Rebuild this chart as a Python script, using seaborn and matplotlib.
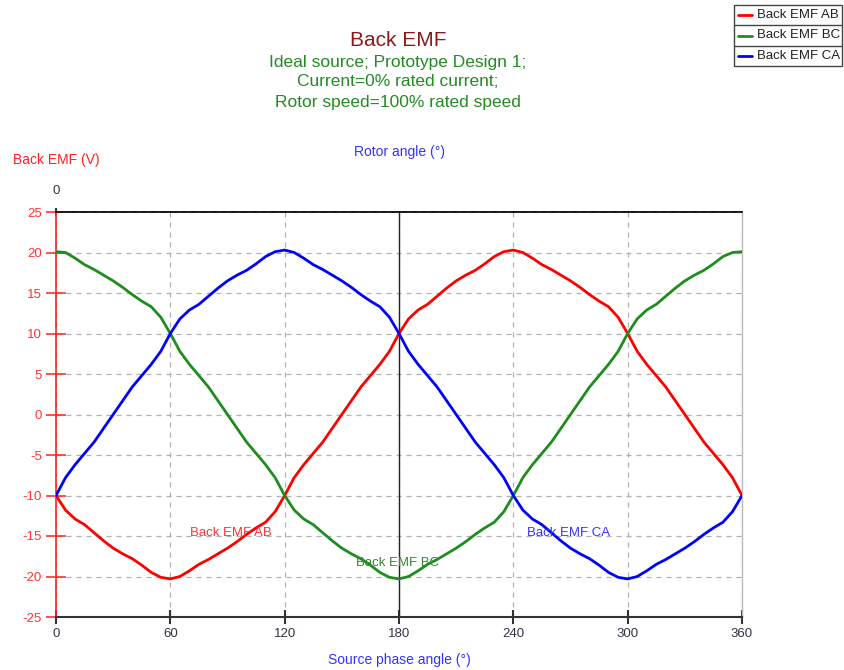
import matplotlib
matplotlib.use('Agg')
import matplotlib.pyplot as plt
import seaborn as sns
import pandas as pd
from matplotlib.lines import Line2D
from matplotlib.patches import Rectangle

# ---------------- data ----------------
angles = list(range(0, 361, 5))  # source phase angle (deg)

emf_ab = [-10.0, -11.8, -12.9, -13.6, -14.6, -15.6, -16.5, -17.2, -17.8, -18.6, -19.5, -20.1, -20.3,
          -20.0, -19.3, -18.5, -17.9, -17.2, -16.5, -15.7, -14.8, -14.0, -13.3, -12.0, -10.0,
          -7.8, -6.2, -4.8, -3.4, -1.7, 0.0, 1.7, 3.4, 4.8, 6.2, 7.8, 10.0,
          11.8, 12.9, 13.6, 14.6, 15.6, 16.5, 17.2, 17.8, 18.6, 19.5, 20.1, 20.3,
          20.0, 19.3, 18.5, 17.9, 17.2, 16.5, 15.7, 14.8, 14.0, 13.3, 12.0, 10.0,
          7.8, 6.2, 4.8, 3.4, 1.7, 0.0, -1.7, -3.4, -4.8, -6.2, -7.8, -10.0]

emf_bc = [20.1, 20.0, 19.3, 18.5, 17.9, 17.2, 16.5, 15.7, 14.8, 14.0, 13.3, 12.0, 10.0,
          7.8, 6.2, 4.8, 3.4, 1.7, 0.0, -1.7, -3.4, -4.8, -6.2, -7.8, -10.0,
          -11.8, -12.9, -13.6, -14.6, -15.6, -16.5, -17.2, -17.8, -18.6, -19.5, -20.1, -20.3,
          -20.0, -19.3, -18.5, -17.9, -17.2, -16.5, -15.7, -14.8, -14.0, -13.3, -12.0, -10.0,
          -7.8, -6.2, -4.8, -3.4, -1.7, 0.0, 1.7, 3.4, 4.8, 6.2, 7.8, 10.0,
          11.8, 12.9, 13.6, 14.6, 15.6, 16.5, 17.2, 17.8, 18.6, 19.5, 20.0, 20.1]

emf_ca = [-10.0, -7.8, -6.2, -4.8, -3.4, -1.7, 0.0, 1.7, 3.4, 4.8, 6.2, 7.8, 10.0,
          11.8, 12.9, 13.6, 14.6, 15.6, 16.5, 17.2, 17.8, 18.6, 19.5, 20.1, 20.3,
          20.0, 19.3, 18.5, 17.9, 17.2, 16.5, 15.7, 14.8, 14.0, 13.3, 12.0, 10.0,
          7.8, 6.2, 4.8, 3.4, 1.7, 0.0, -1.7, -3.4, -4.8, -6.2, -7.8, -10.0,
          -11.8, -12.9, -13.6, -14.6, -15.6, -16.5, -17.2, -17.8, -18.6, -19.5, -20.1, -20.3,
          -20.0, -19.3, -18.5, -17.9, -17.2, -16.5, -15.7, -14.8, -14.0, -13.3, -12.0, -10.0]

series_names = ["Back EMF AB", "Back EMF BC", "Back EMF CA"]
series_colors = ["#ff0000", "#1e8c1e", "#0000ff"]
label_colors = ["#ff3333", "#2e8b2e", "#3333ff"]
label_x = [92, 179.5, 269]
label_y = [-14.6, -18.3, -14.6]

x_ticks = [0, 60, 120, 180, 240, 300, 360]
y_ticks = [-25, -20, -15, -10, -5, 0, 5, 10, 15, 20, 25]
top_ticks = [0]

title = "Back EMF"
subtitle_lines = ["Ideal source; Prototype Design 1;",
                  "Current=0% rated current;",
                  "Rotor speed=100% rated speed"]

# ---------------- figure ----------------
sns.set_theme(style="white")
plt.rcParams['font.family'] = ['Liberation Sans', 'DejaVu Sans']
plt.rcParams['axes.unicode_minus'] = False

W, H = 844, 670
fig = plt.figure(figsize=(W / 100, H / 100), dpi=100)
fig.patch.set_facecolor('white')


def fx(x):
    return x / W


def fy(y):
    return 1 - y / H


ax = fig.add_axes([fx(56), fy(617), 686 / W, 405 / H])

df = pd.DataFrame({
    "angle": angles * 3,
    "emf": emf_ab + emf_bc + emf_ca,
    "series": [series_names[0]] * len(angles) + [series_names[1]] * len(angles) + [series_names[2]] * len(angles),
})
sns.lineplot(data=df, x="angle", y="emf", hue="series", hue_order=series_names,
             palette=dict(zip(series_names, series_colors)), legend=False,
             estimator=None, sort=False, linewidth=2.0, ax=ax, zorder=3)

ax.set_xlim(0, 360)
ax.set_ylim(-25, 25)
ax.set_xticks(x_ticks)
ax.set_yticks(y_ticks)
ax.set_xlabel("")
ax.set_ylabel("")

ax.set_axisbelow(True)
ax.grid(True, linestyle=(0, (4, 4)), color="#b0b0b0", linewidth=0.9)
ax.axvline(180, color="#222222", linewidth=1.0, zorder=2)

for side in ["left", "right", "top", "bottom"]:
    ax.spines[side].set_visible(True)
ax.spines["left"].set_color("#ff2020")
ax.spines["left"].set_linewidth(1.2)
ax.spines["bottom"].set_color("#333333")
ax.spines["bottom"].set_linewidth(1.5)
ax.spines["top"].set_color("#111111")
ax.spines["top"].set_linewidth(1.2)
ax.spines["right"].set_color("#bbbbbb")
ax.spines["right"].set_linewidth(1.0)

ax.tick_params(axis="y", left=True, direction="inout", length=14, width=1.2,
               color="#ff3030", labelcolor="#ff3333", labelsize=9.5, pad=3)
ax.tick_params(axis="x", bottom=True, direction="inout", length=9.5, width=1.5,
               color="#333333", labelcolor="#333344", labelsize=9.5, pad=3)

secax = ax.secondary_xaxis("top")
secax.set_xticks(top_ticks)
secax.set_xticklabels([str(t) for t in top_ticks])
secax.tick_params(axis="x", top=True, direction="inout", length=6, width=1.2,
                  color="#111111", labelcolor="#333344", labelsize=9.5, pad=8)
secax.spines["top"].set_color("#111111")
secax.spines["top"].set_linewidth(1.2)

for name, c, lx, ly in zip(series_names, label_colors, label_x, label_y):
    ax.text(lx, ly, name, color=c, fontsize=9.5, ha="center", va="center", zorder=4)

# axis titles
fig.text(fx(56), fy(160), "Back EMF (V)", color="#ff2020", fontsize=10, ha="center", va="center")
fig.text(fx(399), fy(152), "Rotor angle (°)", color="#3333ff", fontsize=10, ha="center", va="center")
fig.text(fx(399), fy(660), "Source phase angle (°)", color="#3333ff", fontsize=10, ha="center", va="center")

# titles
fig.text(fx(398), fy(41), title, color="#8b1a1a", fontsize=15, ha="center", va="center")
for i, line in enumerate(subtitle_lines):
    fig.text(fx(398), fy(62 + 20 * i), line, color="#228b22", fontsize=12.5, ha="center", va="center")

# legend (table style)
lx0, lx1, ly0, ly1 = 734, 842, 5, 66
fig.add_artist(Rectangle((fx(lx0), fy(ly1)), (lx1 - lx0) / W, (ly1 - ly0) / H,
                         transform=fig.transFigure, fill=False, edgecolor="#444444", linewidth=1.0))
row_h = (ly1 - ly0) / 3
for i, (name, c) in enumerate(zip(series_names, series_colors)):
    if i > 0:
        ysep = ly0 + row_h * i
        fig.add_artist(Line2D([fx(lx0), fx(lx1)], [fy(ysep), fy(ysep)], transform=fig.transFigure,
                              color="#444444", linewidth=1.0))
    yc = ly0 + row_h * (i + 0.5)
    fig.add_artist(Line2D([fx(738), fx(752)], [fy(yc), fy(yc)], transform=fig.transFigure,
                          color=c, linewidth=2.0))
    fig.text(fx(757), fy(yc), name, color="#222222", fontsize=9.5, ha="left", va="center")

fig.savefig("out.png", dpi=100)
